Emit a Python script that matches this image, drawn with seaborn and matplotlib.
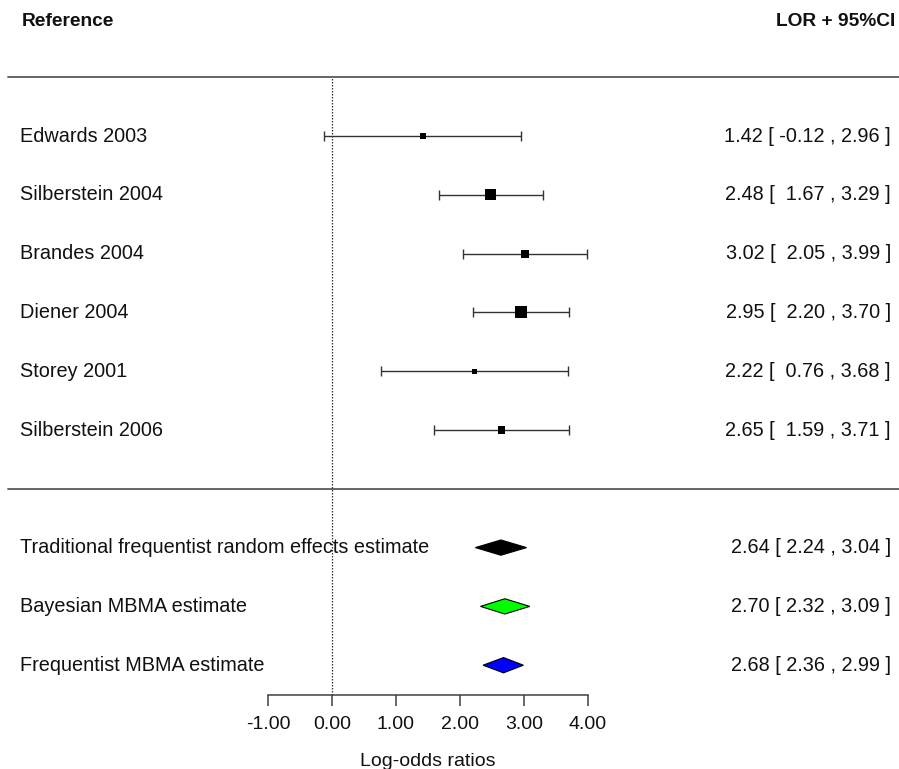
import numpy as np
import pandas as pd
import matplotlib
matplotlib.use("Agg")
import matplotlib.pyplot as plt
import seaborn as sns

# ---- data ----
studies = ["Edwards 2003", "Silberstein 2004", "Brandes 2004", "Diener 2004",
           "Storey 2001", "Silberstein 2006"]
study_est = [1.42, 2.48, 3.02, 2.95, 2.22, 2.65]
study_lo = [-0.12, 1.67, 2.05, 2.20, 0.76, 1.59]
study_hi = [2.96, 3.29, 3.99, 3.70, 3.68, 3.71]

summaries = ["Traditional frequentist random effects estimate",
             "Bayesian MBMA estimate", "Frequentist MBMA estimate"]
sum_est = [2.64, 2.70, 2.68]
sum_lo = [2.24, 2.32, 2.36]
sum_hi = [3.04, 3.09, 2.99]
sum_colors = ["black", "#00FF00", "#0000FF"]

xticks = [-1, 0, 1, 2, 3, 4]
xlabel = "Log-odds ratios"
header_left = "Reference"
header_right = "LOR + 95%CI"

# ---- style ----
sns.set_theme(style="white")
plt.rcParams["font.family"] = ["Liberation Sans", "DejaVu Sans"]
plt.rcParams["axes.unicode_minus"] = False

W, H = 899, 769
fig = plt.figure(figsize=(W / 100, H / 100), dpi=100)
ax = fig.add_axes([0, 0, 1, 1])

# pixel geometry -> data limits
px_per_x = 64.0
x0_px = 332.0
row_px = 58.8
y11_px = 136.0
ax.set_xlim(-x0_px / px_per_x, (W - x0_px) / px_per_x)
ax.set_ylim(11 - (H - y11_px) / row_px, 11 + y11_px / row_px)

study_y = [11 - i for i in range(len(studies))]
sum_y = [4 - i for i in range(len(summaries))]

txt_size = 14.3
x_label_left = -4.875
x_text_right = 8.734

# separator lines
line_x0 = (8 - x0_px) / px_per_x
ax.plot([line_x0, 10], [12, 12], color="0.35", lw=1.3, clip_on=False)
ax.plot([line_x0, 10], [5, 5], color="0.35", lw=1.3, clip_on=False)

# reference line at 0
ax.plot([0, 0], [1.5, 12], color="0.2", lw=0.9, ls=(0, (1.2, 1.2)))

# CI bars
ax.errorbar(study_est, study_y,
            xerr=[np.array(study_est) - np.array(study_lo),
                  np.array(study_hi) - np.array(study_est)],
            fmt="none", ecolor="0.2", elinewidth=1.0, capsize=3.8, capthick=1.0)

# squares via seaborn (size reflects study weight)
df = pd.DataFrame({"est": study_est, "y": study_y})
sizes_pt = np.array([3.8, 7.9, 5.8, 8.6, 3.6, 5.4])
sns.scatterplot(data=df, x="est", y="y", marker="s", s=sizes_pt ** 2,
                color="black", edgecolor="black", linewidth=0, ax=ax,
                legend=False, zorder=3)

# diamonds
hh = 0.13
for e, lo, hi, yy, c in zip(sum_est, sum_lo, sum_hi, sum_y, sum_colors):
    ax.fill([lo, e, hi, e], [yy, yy + hh, yy, yy - hh], facecolor=c,
            edgecolor="black", lw=0.8, zorder=3)

# labels
for name, yy in zip(studies + summaries, study_y + sum_y):
    ax.text(x_label_left, yy, name, ha="left", va="center", fontsize=txt_size,
            color="#111111")

def fmt_rows(est, lo, hi):
    lo_s = [f"{v:.2f}" for v in lo]
    w = max(len(s) for s in lo_s)
    return [f"{e:.2f} [ {l.rjust(w)} , {h:.2f} ]" for e, l, h in zip(est, lo_s, hi)]

for s, yy in zip(fmt_rows(study_est, study_lo, study_hi) +
                 fmt_rows(sum_est, sum_lo, sum_hi), study_y + sum_y):
    ax.text(x_text_right, yy, s, ha="right", va="center", fontsize=txt_size,
            color="#111111")

# headers
ax.text(-4.84, 12.94, header_left, ha="left", va="center", fontsize=13.8,
        fontweight="bold", color="#111111")
ax.text(8.797, 12.94, header_right, ha="right", va="center", fontsize=13.8,
        fontweight="bold", color="#111111")

# x axis
for sp in ["top", "right", "left"]:
    ax.spines[sp].set_visible(False)
ax.spines["bottom"].set_position(("data", 1.5))
ax.spines["bottom"].set_bounds(xticks[0], xticks[-1])
ax.spines["bottom"].set_color("0.25")
ax.spines["bottom"].set_linewidth(1.1)
ax.set_xticks(xticks)
ax.set_xticklabels([f"{t:.2f}" for t in xticks])
ax.set_yticks([])
ax.set_ylabel("")
ax.tick_params(axis="x", direction="out", length=8, width=1.1, color="0.25",
               pad=7.5, labelsize=14, labelcolor="#111111", bottom=True)
ax.set_xlabel(xlabel, fontsize=14, color="#111111")
ax.xaxis.set_label_coords(1.5, 0.36, transform=ax.transData)
ax.xaxis.label.set_va("center")
ax.set_facecolor("white")
ax.grid(False)

fig.savefig("out.png", dpi=100, facecolor="white")
